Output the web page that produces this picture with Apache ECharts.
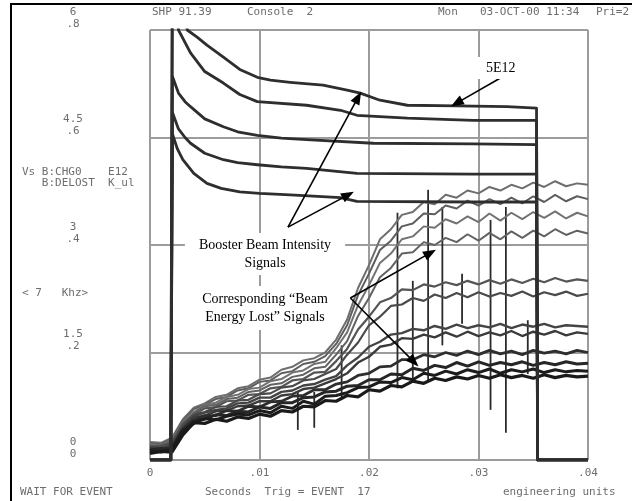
<!DOCTYPE html>
<html>
<head>
<meta charset="utf-8">
<script src="https://cdn.jsdelivr.net/npm/echarts@6/dist/echarts.min.js"></script>
<style>
  html, body { margin: 0; padding: 0; background: #fff; }
  #chart { width: 632px; height: 501px; }
</style>
</head>
<body>
<div id="chart"></div>
<script>
// tick labels (two scales on the y axis)
const xTicks = ['0', '.01', '.02', '.03', '.04'];
const yTicksIntensity = ['0', '1.5', '3', '4.5', '6'];
const yTicksLoss = ['0', '.2', '.4', '.6', '.8'];

// booster beam intensity, [seconds, E12]
const beam1 = [[0, 0], [0.0019, 0], [0.00205, 7.6], [0.0034, 6.0], [0.0043, 5.9], [0.0052, 5.79], [0.0067, 5.62], [0.0082, 5.45],
  [0.0098, 5.34], [0.0110, 5.30], [0.0128, 5.27], [0.0158, 5.23], [0.0180, 5.16], [0.0192, 5.12], [0.0210, 5.02], [0.0235, 4.95],
  [0.0280, 4.94], [0.0326, 4.93], [0.0353, 4.91], [0.0354, 0], [0.04, 0]];
const beam2 = [[0, 0], [0.0019, 0], [0.00205, 6.8], [0.0026, 6.0], [0.0037, 5.68], [0.0050, 5.42], [0.0067, 5.26], [0.0082, 5.10],
  [0.0098, 5.0], [0.0143, 4.95], [0.0174, 4.88], [0.0189, 4.81], [0.0235, 4.77], [0.0295, 4.74], [0.0353, 4.74], [0.0354, 0], [0.04, 0]];
const beam3 = [[0, 0], [0.0019, 0], [0.00205, 5.35], [0.0026, 5.12], [0.0032, 5.0], [0.0037, 4.93], [0.0050, 4.76], [0.0067, 4.65],
  [0.0080, 4.58], [0.0098, 4.53], [0.0120, 4.49], [0.0143, 4.47], [0.0204, 4.42], [0.0295, 4.41], [0.0353, 4.40], [0.0354, 0], [0.04, 0]];
const beam4 = [[0, 0], [0.0019, 0], [0.00205, 4.85], [0.0026, 4.62], [0.0032, 4.5], [0.0037, 4.42], [0.0050, 4.28], [0.0067, 4.19],
  [0.0080, 4.15], [0.0098, 4.12], [0.0120, 4.09], [0.0143, 4.07], [0.0189, 4.0], [0.0295, 3.99], [0.0353, 3.99], [0.0354, 0], [0.04, 0]];
const beam5 = [[0, 0], [0.0019, 0], [0.00205, 4.55], [0.0025, 4.34], [0.003, 4.19], [0.0040, 4.0], [0.0052, 3.86], [0.0065, 3.79],
  [0.0082, 3.74], [0.0100, 3.72], [0.0128, 3.70], [0.0174, 3.66], [0.0189, 3.61], [0.0295, 3.60], [0.0353, 3.60], [0.0354, 0], [0.04, 0]];

// beam energy lost, sampled every ms
const lossTime = [0, 0.001, 0.002, 0.003, 0.004, 0.005, 0.006, 0.007, 0.008, 0.009, 0.010, 0.011, 0.012, 0.013,
  0.014, 0.015, 0.016, 0.017, 0.018, 0.019, 0.020, 0.021, 0.022, 0.023, 0.024, 0.025, 0.026, 0.027, 0.028, 0.029,
  0.030, 0.031, 0.032, 0.033, 0.034, 0.035, 0.036, 0.037, 0.038, 0.039, 0.040];
const lossA1 = [0.09, 0.12, 0.11, 0.35, 0.52, 0.51, 0.57, 0.54, 0.60, 0.58, 0.64, 0.61, 0.69, 0.67, 0.75, 0.74, 0.83, 0.82, 0.90, 0.88, 0.98,
  0.96, 1.04, 1.02, 1.10, 1.07, 1.14, 1.11, 1.16, 1.13, 1.18, 1.14, 1.19, 1.15, 1.18, 1.14, 1.19, 1.15, 1.18, 1.16, 1.17];
const lossA2 = [0.13, 0.11, 0.15, 0.40, 0.51, 0.58, 0.56, 0.61, 0.64, 0.63, 0.69, 0.66, 0.75, 0.72, 0.82, 0.78, 0.89, 0.90, 0.94, 1.01, 1.02,
  1.09, 1.08, 1.15, 1.12, 1.21, 1.18, 1.24, 1.20, 1.26, 1.22, 1.27, 1.21, 1.26, 1.23, 1.27, 1.22, 1.26, 1.23, 1.25, 1.24];
const lossA3 = [0.14, 0.16, 0.15, 0.42, 0.55, 0.57, 0.63, 0.62, 0.68, 0.67, 0.74, 0.72, 0.80, 0.80, 0.87, 0.88, 0.95, 0.96, 1.03, 1.04, 1.12,
  1.12, 1.20, 1.19, 1.28, 1.25, 1.32, 1.29, 1.36, 1.31, 1.37, 1.32, 1.36, 1.33, 1.37, 1.32, 1.36, 1.33, 1.37, 1.34, 1.35];
const lossA4 = [0.15, 0.13, 0.18, 0.43, 0.55, 0.62, 0.62, 0.69, 0.68, 0.75, 0.74, 0.81, 0.82, 0.89, 0.90, 0.98, 0.98, 1.06, 1.09, 1.18, 1.21,
  1.30, 1.31, 1.40, 1.40, 1.47, 1.44, 1.50, 1.46, 1.52, 1.47, 1.53, 1.48, 1.52, 1.47, 1.53, 1.49, 1.52, 1.48, 1.53, 1.50];
const lossB1 = [0.16, 0.15, 0.19, 0.44, 0.59, 0.62, 0.68, 0.69, 0.75, 0.76, 0.82, 0.82, 0.90, 0.92, 0.99, 1.01, 1.07, 1.13, 1.21, 1.36, 1.44,
  1.58, 1.61, 1.70, 1.69, 1.75, 1.71, 1.78, 1.72, 1.79, 1.73, 1.78, 1.74, 1.80, 1.73, 1.79, 1.75, 1.80, 1.74, 1.78, 1.76];
const lossB2 = [0.18, 0.16, 0.21, 0.46, 0.61, 0.66, 0.70, 0.72, 0.79, 0.80, 0.87, 0.87, 0.95, 0.97, 1.04, 1.06, 1.12, 1.17, 1.32, 1.43, 1.58,
  1.65, 1.75, 1.77, 1.83, 1.81, 1.87, 1.83, 1.89, 1.84, 1.88, 1.85, 1.90, 1.84, 1.89, 1.86, 1.90, 1.85, 1.88, 1.87, 1.86];
const lossC1 = [0.17, 0.19, 0.23, 0.48, 0.63, 0.67, 0.74, 0.75, 0.83, 0.84, 0.92, 0.93, 1.01, 1.03, 1.11, 1.13, 1.20, 1.27, 1.47, 1.64, 1.88,
  2.00, 2.15, 2.17, 2.26, 2.22, 2.31, 2.26, 2.33, 2.27, 2.34, 2.28, 2.33, 2.29, 2.35, 2.28, 2.34, 2.30, 2.35, 2.29, 2.32];
const lossC2 = [0.20, 0.18, 0.25, 0.50, 0.63, 0.72, 0.74, 0.82, 0.83, 0.91, 0.92, 1.00, 1.02, 1.11, 1.13, 1.22, 1.23, 1.38, 1.55, 1.82, 2.00,
  2.20, 2.26, 2.38, 2.37, 2.45, 2.42, 2.48, 2.44, 2.50, 2.45, 2.51, 2.46, 2.52, 2.47, 2.53, 2.48, 2.54, 2.49, 2.52, 2.50];
const lossD1 = [0.19, 0.21, 0.26, 0.52, 0.65, 0.75, 0.77, 0.85, 0.87, 0.95, 0.97, 1.05, 1.07, 1.16, 1.19, 1.28, 1.30, 1.47, 1.66, 2.01, 2.26,
  2.55, 2.68, 2.88, 2.90, 3.04, 3.00, 3.10, 3.04, 3.15, 3.06, 3.17, 3.08, 3.19, 3.10, 3.20, 3.12, 3.22, 3.14, 3.20, 3.16];
const lossD2 = [0.22, 0.20, 0.28, 0.53, 0.67, 0.77, 0.80, 0.88, 0.91, 0.99, 1.01, 1.10, 1.13, 1.22, 1.25, 1.34, 1.37, 1.56, 1.78, 2.16, 2.44,
  2.75, 2.88, 3.08, 3.12, 3.26, 3.24, 3.36, 3.30, 3.40, 3.32, 3.44, 3.34, 3.45, 3.36, 3.46, 3.38, 3.47, 3.37, 3.45, 3.40];
const lossD3 = [0.23, 0.22, 0.29, 0.55, 0.71, 0.77, 0.85, 0.88, 0.97, 1.00, 1.09, 1.11, 1.21, 1.24, 1.34, 1.37, 1.45, 1.62, 1.88, 2.30, 2.60,
  2.93, 3.06, 3.26, 3.30, 3.44, 3.43, 3.55, 3.51, 3.62, 3.55, 3.64, 3.57, 3.66, 3.58, 3.68, 3.60, 3.70, 3.61, 3.68, 3.64];
const lossD4 = [0.25, 0.24, 0.31, 0.57, 0.73, 0.79, 0.88, 0.91, 1.00, 1.03, 1.12, 1.15, 1.26, 1.30, 1.39, 1.42, 1.50, 1.68, 1.96, 2.40, 2.72,
  3.08, 3.22, 3.42, 3.46, 3.60, 3.57, 3.70, 3.66, 3.76, 3.72, 3.81, 3.76, 3.84, 3.79, 3.87, 3.81, 3.89, 3.82, 3.86, 3.84];

// narrow spikes on the loss traces: [seconds, low, high]
const lossSpikes = [[0.0135, 0.42, 0.95], [0.0150, 0.45, 0.95], [0.0175, 0.85, 1.60], [0.0226, 1.00, 3.45],
  [0.0240, 1.10, 2.50], [0.0254, 1.10, 3.77], [0.0267, 1.60, 3.53], [0.0285, 1.90, 2.60], [0.0311, 0.70, 3.35],
  [0.0325, 0.38, 3.53], [0.0345, 1.20, 1.95]];

const mono = 'DejaVu Sans Mono';
const monoColor = '#6d6d6d';

function pairs(values) {
  return lossTime.map((t, i) => [t, values[i]]);
}

function beamSeries(data) {
  return {
    type: 'line', data: data, symbol: 'none', silent: true,
    lineStyle: { color: '#2e2e2e', width: 2.8, join: 'round' }, z: 4
  };
}

function lossSeries(values, color, width) {
  return {
    type: 'line', data: pairs(values), symbol: 'none', silent: true,
    lineStyle: { color: color, width: width }, z: 3
  };
}

const chart = echarts.init(document.getElementById('chart'), null, { renderer: 'canvas' });

const arrowLine = { color: '#000', width: 1.6, type: 'solid' };

const option = {
  backgroundColor: '#ffffff',
  animation: false,
  grid: { left: 150, right: 44, top: 30, bottom: 41 },
  xAxis: {
    type: 'value', min: 0, max: 0.04, interval: 0.01,
    axisLine: { show: false },
    axisTick: { show: false },
    splitLine: { lineStyle: { color: '#9c9c9c', width: 2 } },
    axisLabel: {
      margin: 8, fontFamily: mono, fontSize: 11, color: monoColor,
      formatter: (v, i) => xTicks[i]
    }
  },
  yAxis: {
    type: 'value', min: 0, max: 6, interval: 1.5,
    axisLine: { show: false },
    axisTick: { show: false },
    splitLine: { lineStyle: { color: '#9c9c9c', width: 2 } },
    axisLabel: {
      margin: 77, align: 'center', verticalAlign: 'bottom', lineHeight: 12,
      fontFamily: mono, fontSize: 11, color: monoColor,
      formatter: (v, i) => yTicksIntensity[i] + '\n' + yTicksLoss[i]
    }
  },
  series: [
    lossSeries(lossD4, '#6e6e6e', 2),
    lossSeries(lossD3, '#5e5e5e', 2),
    lossSeries(lossD2, '#727272', 2),
    lossSeries(lossD1, '#626262', 2),
    lossSeries(lossC2, '#555', 2.2),
    lossSeries(lossC1, '#4a4a4a', 2.2),
    lossSeries(lossB2, '#444', 2.4),
    lossSeries(lossB1, '#3a3a3a', 2.4),
    lossSeries(lossA4, '#2e2e2e', 2.8),
    lossSeries(lossA3, '#262626', 3),
    lossSeries(lossA2, '#1c1c1c', 3),
    lossSeries(lossA1, '#1a1a1a', 3.2),
    {
      type: 'custom', data: lossSpikes, silent: true, z: 3,
      encode: { x: 0, y: [1, 2] },
      renderItem: function (params, api) {
        const p1 = api.coord([api.value(0), api.value(1)]);
        const p2 = api.coord([api.value(0), api.value(2)]);
        return {
          type: 'line',
          shape: { x1: p1[0], y1: p1[1], x2: p2[0], y2: p2[1] },
          style: { stroke: '#2a2a2a', lineWidth: 1.8 }
        };
      }
    },
    beamSeries(beam5),
    beamSeries(beam4),
    beamSeries(beam3),
    beamSeries(beam2),
    Object.assign(beamSeries(beam1), {
      markLine: {
        silent: true, symbol: ['none', 'triangle'], symbolSize: [10, 13],
        lineStyle: arrowLine, label: { show: false }, z: 10,
        data: [
          [{ coord: [0.0126, 3.25] }, { coord: [0.0190, 5.06] }],
          [{ coord: [0.0126, 3.25] }, { coord: [0.0181, 3.70] }],
          [{ coord: [0.0183, 2.26] }, { coord: [0.0256, 2.89] }],
          [{ coord: [0.0183, 2.26] }, { coord: [0.0241, 1.37] }],
          [{ coord: [0.0320, 5.33] }, { coord: [0.0280, 4.98] }]
        ]
      }
    })
  ],
  graphic: [
    { type: 'rect', shape: { x: 11, y: 4, width: 660, height: 540 }, style: { fill: null, stroke: '#000', lineWidth: 2 }, silent: true },
    // header
    { type: 'text', left: 152, top: 7, style: { text: 'SHP 91.39', font: '11px "DejaVu Sans Mono"', fill: monoColor } },
    { type: 'text', left: 247, top: 7, style: { text: 'Console  2', font: '11px "DejaVu Sans Mono"', fill: monoColor } },
    { type: 'text', left: 438, top: 7, style: { text: 'Mon', font: '11px "DejaVu Sans Mono"', fill: monoColor } },
    { type: 'text', left: 480, top: 7, style: { text: '03-OCT-00 11:34', font: '11px "DejaVu Sans Mono"', fill: monoColor } },
    { type: 'text', left: 596, top: 7, style: { text: 'Pri=2', font: '11px "DejaVu Sans Mono"', fill: monoColor } },
    // side captions
    { type: 'text', left: 22, top: 167, style: { text: 'Vs B:CHG0    E12\n   B:DELOST  K_ul', font: '11px "DejaVu Sans Mono"', fill: monoColor, lineHeight: 11 } },
    { type: 'text', left: 22, top: 288, style: { text: '< 7   Khz>', font: '11px "DejaVu Sans Mono"', fill: monoColor } },
    // footer
    { type: 'text', left: 20, top: 487, style: { text: 'WAIT FOR EVENT', font: '11px "DejaVu Sans Mono"', fill: monoColor } },
    { type: 'text', left: 205, top: 487, style: { text: 'Seconds  Trig = EVENT  17', font: '11px "DejaVu Sans Mono"', fill: monoColor } },
    { type: 'text', left: 503, top: 487, style: { text: 'engineering units', font: '11px "DejaVu Sans Mono"', fill: monoColor } },
    // annotations
    {
      type: 'text', left: 478, top: 57, z: 20,
      style: { text: '5E12', font: '14px "Liberation Serif"', fill: '#000', backgroundColor: '#fff', padding: [4, 8, 4, 8] }
    },
    {
      type: 'text', x: 265, y: 233, z: 20,
      style: {
        text: 'Booster Beam Intensity\nSignals', font: '14px "Liberation Serif"', fill: '#000', align: 'center',
        lineHeight: 18, backgroundColor: '#fff', padding: [3, 14, 3, 14]
      }
    },
    {
      type: 'text', x: 265, y: 286, z: 20,
      style: {
        text: 'Corresponding \u201cBeam\nEnergy Lost\u201d Signals', font: '14px "Liberation Serif"', fill: '#000', align: 'center',
        lineHeight: 18, backgroundColor: '#fff', padding: [4, 10, 4, 10]
      }
    }
  ]
};

chart.setOption(option);
</script>
</body>
</html>
